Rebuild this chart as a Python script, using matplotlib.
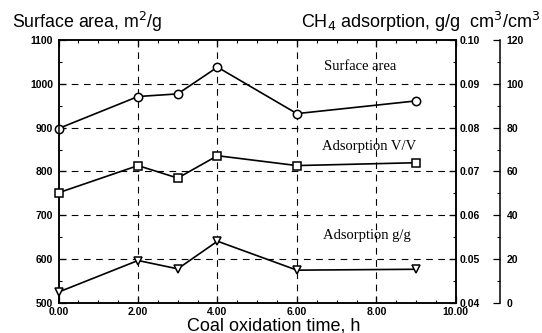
import matplotlib
matplotlib.use("Agg")
import matplotlib.pyplot as plt
from matplotlib.ticker import MultipleLocator, FormatStrFormatter

# Data
time_h = [0, 2, 3, 4, 6, 9]
surface_area = [898, 971, 977, 1038, 932, 961]          # m2/g
adsorption_vv = [50.3, 62.7, 57.0, 67.2, 62.7, 64.0]     # cm3/cm3
adsorption_gg = [0.0425, 0.0497, 0.0478, 0.0541, 0.0475, 0.0477]  # g/g

series_labels = ["Surface area", "Adsorption V/V", "Adsorption g/g"]

plt.rcParams['font.family'] = ['Liberation Sans', 'DejaVu Sans']

fig = plt.figure(figsize=(5.42, 3.33), dpi=100)
ax = fig.add_axes([0.108, 0.09, 0.733, 0.79])
ax2 = ax.twinx()
ax3 = ax.twinx()
ax3.spines['right'].set_position(('axes', 1.111))
for s in ['top', 'left', 'bottom']:
    ax3.spines[s].set_visible(False)

ax.set_xlim(0, 10)
ax.set_ylim(500, 1100)
ax2.set_ylim(0.04, 0.10)
ax3.set_ylim(0, 120)

# grid
for xv in [2, 4, 6, 8]:
    ax.axvline(xv, color='black', lw=0.8, ls=(0, (6, 5)), zorder=1)
for yv in [600, 700, 800, 900, 1000]:
    ax.axhline(yv, color='black', lw=0.8, ls=(0, (6, 5)), zorder=1)

lk = dict(color='black', lw=1.2, mfc='white', mec='black', mew=1.1, zorder=5, clip_on=False)
ax.plot(time_h, surface_area, marker='o', ms=6, **lk)
ax3.plot(time_h, adsorption_vv, marker='s', ms=5.5, **lk)
ax2.plot(time_h, adsorption_gg, marker='v', ms=6, **lk)

ax.xaxis.set_major_locator(MultipleLocator(2))
ax.xaxis.set_minor_locator(MultipleLocator(0.5))
ax.xaxis.set_major_formatter(FormatStrFormatter('%.2f'))
ax.yaxis.set_major_locator(MultipleLocator(100))
ax.yaxis.set_minor_locator(MultipleLocator(50))
ax.tick_params(axis='x', which='both', direction='in', top=True, pad=3)
ax.tick_params(axis='y', which='both', direction='in', pad=4)
ax.tick_params(which='major', length=5, width=0.9)
ax.tick_params(which='minor', length=2.5, width=0.8)

ax2.yaxis.set_major_locator(MultipleLocator(0.01))
ax2.yaxis.set_minor_locator(MultipleLocator(0.005))
ax2.yaxis.set_major_formatter(FormatStrFormatter('%.2f'))
ax2.tick_params(axis='y', which='both', direction='in', pad=3)
ax2.tick_params(which='major', length=5, width=0.9)
ax2.tick_params(which='minor', length=2.5, width=0.8)

ax3.yaxis.set_major_locator(MultipleLocator(20))
ax3.yaxis.set_minor_locator(MultipleLocator(10))
ax3.tick_params(axis='y', which='both', direction='in', pad=5)
ax3.tick_params(which='major', length=5, width=0.9)
ax3.tick_params(which='minor', length=2.5, width=0.8)

for a in (ax, ax2, ax3):
    for lab in a.get_xticklabels() + a.get_yticklabels():
        lab.set_fontsize(7.5)
        lab.set_fontweight('bold')
    for sp in a.spines.values():
        sp.set_linewidth(1.1)

ax.set_xlabel("Coal oxidation time, h", fontsize=13, labelpad=0)
ax.xaxis.label.set_x(0.541)

fig.text(0.022, 0.916, "Surface area, m$^2$/g", fontsize=12.8, ha='left', va='baseline')
fig.text(0.997, 0.916, "CH$_4$ adsorption, g/g  cm$^3$/cm$^3$", fontsize=13, ha='right', va='baseline')

serif = dict(family=['Liberation Serif', 'DejaVu Serif'], fontsize=10.5, ha='center', va='center')
ax.text(7.58, 1039, series_labels[0], **serif)
ax.text(7.83, 856, series_labels[1], **serif)
ax.text(7.76, 654, series_labels[2], **serif)

fig.savefig("out.png", dpi=100)
